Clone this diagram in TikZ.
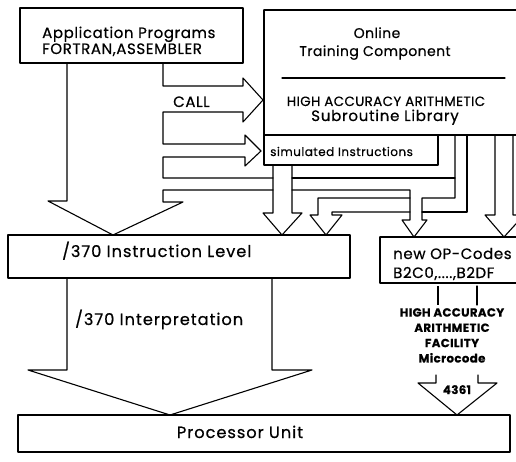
\documentclass[tikz,border=0pt]{standalone}
\usepackage{fontspec}
\setmainfont{Poppins}[FakeBold=0.6, LetterSpace=3]
\begin{document}
\begin{tikzpicture}[x=1pt,y=-1pt,
  ln/.style={line width=1.1pt, line join=round, line cap=round},
  txt/.style={inner sep=0pt, font=\fontsize{14}{16}\selectfont},
  txtb/.style={inner sep=0pt, font=\fontsize{15}{17}\selectfont\addfontfeature{LetterSpace=4}},
  big/.style={inner sep=0pt, font=\fontsize{16.2}{18}\selectfont\addfontfeature{LetterSpace=6}},
  small/.style={inner sep=0pt, font=\fontsize{12}{14}\selectfont\addfontfeature{LetterSpace=4}},
  tiny/.style={inner sep=0pt, font=\bfseries\fontsize{11.8}{15.3}\selectfont, align=center}]
\useasboundingbox (0,0) rectangle (516,462);
% boxes
\draw[ln] (20,8) rectangle (243,63);
\draw[ln] (264,10) -- (530,10);
\draw[ln] (264,10) -- (264,135);
\draw[ln] (264,135) -- (530,135);
\draw[ln] (264,135) rectangle (438,165);
\draw[ln] (282,78) -- (505,78);
\draw[ln] (8,235) rectangle (350,278);
\draw[ln] (380,237) -- (530,237);
\draw[ln] (380,237) -- (380,283) -- (530,283);
\draw[ln] (18,415) rectangle (510,452);
% big app arrow
\draw[ln] (67,63) -- (67,201) -- (48,201) -- (113,235) -- (183,202) -- (163,202) -- (163,190) -- (273,190);
\draw[ln] (163,63) -- (163,86) -- (243,86) -- (243,78) -- (263,100) -- (243,122) -- (243,112) -- (163,112)
  -- (163,144) -- (245,144) -- (245,135) -- (261,151) -- (245,166) -- (245,157) -- (163,157) -- (163,178) -- (273,178);
% ribbon A continued
\draw[ln] (292,178) -- (455,178);
\draw[ln] (292,190) -- (410,190) -- (410,220) -- (402,220) -- (414,237) -- (427,220) -- (422,220) -- (422,198) -- (455,198) -- (455,135);
% ribbon B
\draw[ln] (467,135) -- (467,212) -- (422,212);
\draw[ln] (410,212) -- (332,212) -- (332,215) -- (342,215) -- (326,235) -- (310,215) -- (318,215) -- (318,198) -- (410,198);
% simulated arrow
\draw[ln] (273,165) -- (273,213) -- (263,213) -- (282,235) -- (302,213) -- (292,213) -- (292,165);
% right arrow
\draw[ln] (495,135) -- (495,215) -- (485,215) -- (504,237) -- (524,215) -- (513,215) -- (513,135);
% interpretation arrow
\draw[ln] (67,278) -- (67,370) -- (28,370) -- (170,415) -- (312,370) -- (272,370) -- (272,278);
% microcode connections
\draw[line width=2.6pt] (438,286) -- (438,305);
\draw[ln] (477,286) -- (477,305);
\draw[ln] (436,375) -- (436,383) -- (418,383) -- (457,415) -- (497,383) -- (478,383) -- (478,375);
% texts
\node[txtb, anchor=base west] (t1) at (42,38) {Application Programs};
\node[txtb, anchor=base west] (t2) at (42,54) {FORTRAN,ASSEMBLER};
\node[txt, anchor=base] (t3) at (377,38) {Online};
\node[txt, anchor=base] (t4) at (375,56) {Training Component};
\node[inner sep=0pt, font=\fontsize{13.4}{16}\selectfont, anchor=base] (t5) at (386,106) {HIGH ACCURACY ARITHMETIC};
\node[inner sep=0pt, font=\fontsize{15}{18}\selectfont\addfontfeature{LetterSpace=5}, anchor=base] (t6) at (385,121) {Subroutine Library};
\node[txtb, anchor=base west] (t7) at (173,107) {CALL};
\node[small, anchor=base west] (t8) at (270,156) {simulated Instructions};
\node[big, anchor=base west] (t9) at (62,257) {/370 Instruction Level};
\node[big, anchor=base west] (t10) at (75,325) {/370 Interpretation};
\node[txtb, anchor=base west] (t11) at (393,259) {new OP-Codes};
\node[txtb, anchor=base west] (t12) at (393,278) {B2C0,....,B2DF};
\node[tiny, anchor=north] (t13) at (452,308) {HIGH ACCURACY\\ARITHMETIC\\FACILITY\\Microcode};
\node[tiny, anchor=base] (t14) at (457,394) {4361};
\node[big, anchor=base] (t15) at (240,438) {Processor Unit};
\end{tikzpicture}
\end{document}
